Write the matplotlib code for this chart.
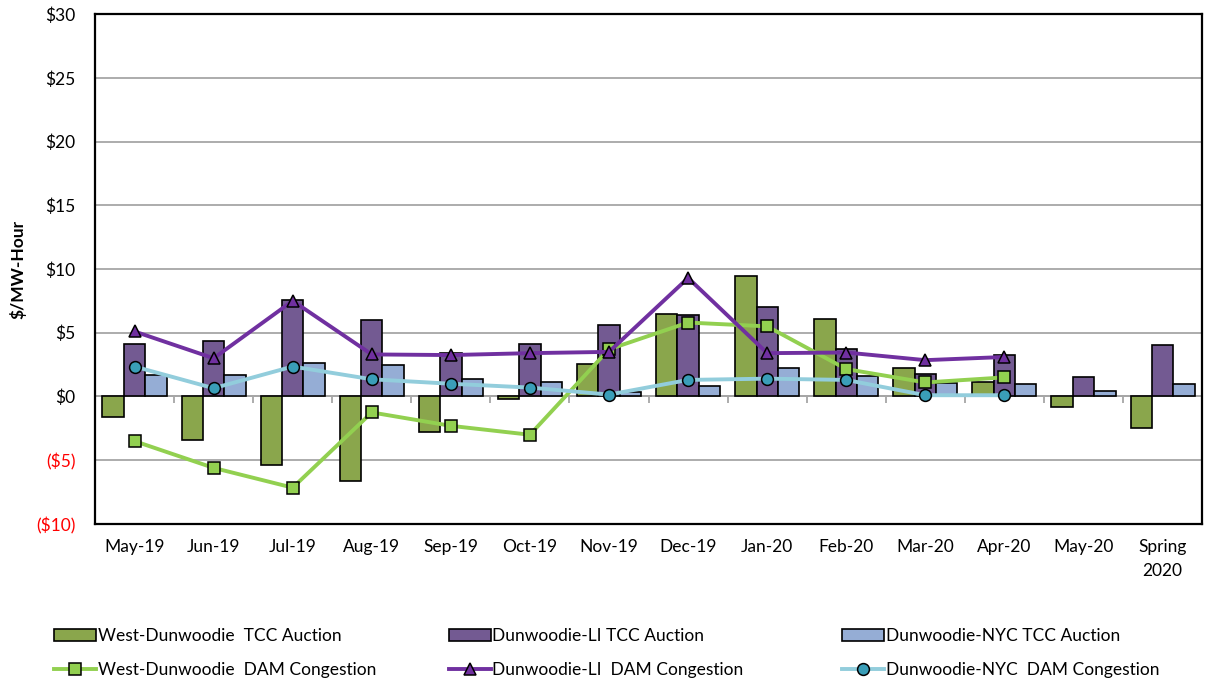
import numpy as np
import matplotlib.pyplot as plt
from matplotlib.ticker import FuncFormatter

plt.rcParams['font.family'] = ['Lato', 'DejaVu Sans']

months = ['May-19', 'Jun-19', 'Jul-19', 'Aug-19', 'Sep-19', 'Oct-19', 'Nov-19',
          'Dec-19', 'Jan-20', 'Feb-20', 'Mar-20', 'Apr-20', 'May-20', 'Spring\n2020']

# TCC auction prices ($/MWh)
west_tcc = [-1.6, -3.4, -5.4, -6.6, -2.75, -0.2, 2.55, 6.45, 9.45, 6.1, 2.2, 1.1, -0.8, -2.45]
li_tcc = [4.15, 4.35, 7.6, 6.0, 3.45, 4.15, 5.6, 6.4, 7.0, 3.7, 1.8, 3.25, 1.5, 4.05]
nyc_tcc = [1.7, 1.7, 2.6, 2.5, 1.35, 1.15, 0.35, 0.8, 2.25, 1.6, 1.05, 1.0, 0.45, 1.0]

# DAM congestion ($/MWh), no values yet for the last two periods
west_dam = [-3.5, -5.6, -7.15, -1.25, -2.3, -3.0, 3.7, 5.8, 5.5, 2.15, 1.1, 1.5, np.nan, np.nan]
li_dam = [5.1, 3.0, 7.5, 3.3, 3.25, 3.4, 3.5, 9.3, 3.4, 3.45, 2.85, 3.1, np.nan, np.nan]
nyc_dam = [2.35, 0.65, 2.35, 1.35, 1.0, 0.7, 0.15, 1.3, 1.4, 1.3, 0.1, 0.1, np.nan, np.nan]

x = np.arange(len(months))
w = 0.27

fig = plt.figure(figsize=(12.1, 6.83), dpi=100)
ax = fig.add_axes([0.0785, 0.2328, 0.915, 0.7467])

b1 = ax.bar(x - w, west_tcc, w, color='#8AA64C', edgecolor='black', linewidth=1.2, zorder=3,
            label='West-Dunwoodie  TCC Auction')
b2 = ax.bar(x, li_tcc, w, color='#735A92', edgecolor='black', linewidth=1.2, zorder=3,
            label='Dunwoodie-LI TCC Auction')
b3 = ax.bar(x + w, nyc_tcc, w, color='#95ADD5', edgecolor='black', linewidth=1.2, zorder=3,
            label='Dunwoodie-NYC TCC Auction')

l1, = ax.plot(x, west_dam, color='#92D050', lw=2.8, marker='s', ms=8.5, mfc='#92D050',
              mec='black', mew=1.1, zorder=5, label='West-Dunwoodie  DAM Congestion')
l2, = ax.plot(x, li_dam, color='#7030A0', lw=2.8, marker='^', ms=9, mfc='#7030A0',
              mec='black', mew=1.1, zorder=5, label='Dunwoodie-LI  DAM Congestion')
l3, = ax.plot(x, nyc_dam, color='#92CDDC', lw=2.8, marker='o', ms=8.5, mfc='#3A9EB8',
              mec='black', mew=1.1, zorder=5, label='Dunwoodie-NYC  DAM Congestion')

ax.set_xlim(-0.5, len(months) - 0.5)
ax.set_ylim(-10, 30)
ax.set_yticks(np.arange(-10, 31, 5))
ax.yaxis.grid(True, color='#A6A6A6', lw=1.3, zorder=0)
ax.set_axisbelow(True)


def dollars(v, pos):
    return f'(${abs(v):.0f})' if v < 0 else f'${v:.0f}'


ax.yaxis.set_major_formatter(FuncFormatter(dollars))
ax.tick_params(axis='y', length=0, pad=14, labelsize=12.5)
for lab in ax.get_yticklabels():
    if lab.get_text().startswith('('):
        lab.set_color('#FF0000')

ax.set_xticks(x)
ax.set_xticklabels(months, linespacing=1.6)
ax.tick_params(axis='x', length=0, pad=11, labelsize=12.5)

for s in ax.spines.values():
    s.set_linewidth(1.6)
    s.set_color('black')

# category axis drawn across the zero line
zero_axis = ax.secondary_xaxis(0.25)
zero_axis.set_xticks(np.arange(-0.5, len(months), 1.0))
zero_axis.tick_params(axis='x', direction='out', length=5, width=1.3, color='#A6A6A6',
                      labelbottom=False)
zero_axis.spines['bottom'].set_color('#A6A6A6')
zero_axis.spines['bottom'].set_linewidth(1.3)

ax.set_ylabel('$/MW-Hour', fontsize=12.5, fontweight='bold')
ax.yaxis.set_label_coords(-0.062, 0.5)

# one legend per series pair, laid out as three columns
for (bar, line), left in zip([(b1, l1), (b2, l2), (b3, l3)], [0.045, 0.371, 0.696]):
    fig.legend([bar, line], [bar.get_label(), line.get_label()], loc='upper left',
               bbox_to_anchor=(left, 0.081), frameon=False, fontsize=12.5,
               borderpad=0, borderaxespad=0, handlelength=2.4, handletextpad=0.1,
               labelspacing=1.05)

fig.savefig('out.png', dpi=100)
